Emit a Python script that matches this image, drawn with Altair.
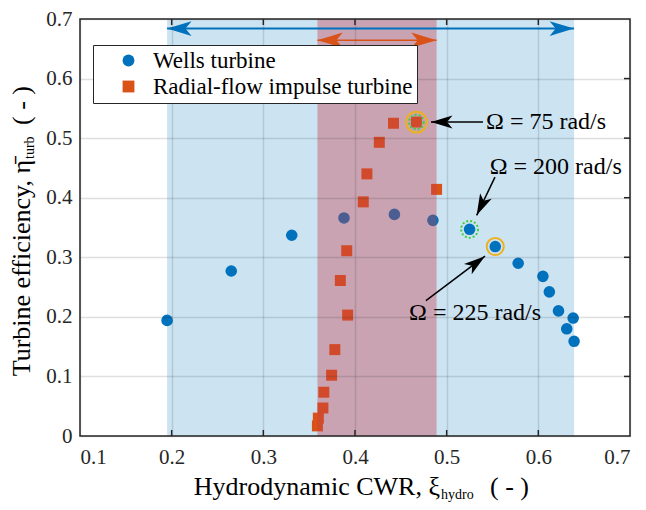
import math
import altair as alt
import pandas as pd

# ---------------- data ----------------
wells_label = "Wells turbine"
imp_label = "Radial-flow impulse turbine"

wells_x = [0.195, 0.265, 0.331, 0.388, 0.443, 0.485, 0.525, 0.553, 0.578, 0.605, 0.612, 0.622, 0.638, 0.631, 0.639]
wells_y = [0.194, 0.277, 0.337, 0.366, 0.372, 0.362, 0.347, 0.318, 0.290, 0.268, 0.242, 0.210, 0.198, 0.180, 0.159]

imp_x = [0.359, 0.360, 0.365, 0.366, 0.3745, 0.378, 0.392, 0.384, 0.391, 0.409, 0.413, 0.4265, 0.442, 0.467, 0.489]
imp_y = [0.017, 0.030, 0.047, 0.0735, 0.102, 0.145, 0.203, 0.261, 0.311, 0.393, 0.440, 0.493, 0.525, 0.527, 0.414]

x_ticks = [0.1, 0.2, 0.3, 0.4, 0.5, 0.6, 0.7]
y_ticks = [0, 0.1, 0.2, 0.3, 0.4, 0.5, 0.6, 0.7]

x_title_parts = ["Hydrodynamic CWR, ξ", "hydro", "( - )"]
y_title_parts = ["Turbine efficiency, η̄", "turb", "( - )"]

omega_labels = ["Ω = 75 rad/s", "Ω = 200 rad/s", "Ω = 225 rad/s"]
omega_text_x = [0.543, 0.547, 0.459]
omega_text_y = [0.527, 0.451, 0.207]
arrow_start_x = [0.5396, 0.5527, 0.4774]
arrow_start_y = [0.527, 0.4346, 0.2272]
arrow_tip_x = [0.4829, 0.5327, 0.5418]
arrow_tip_y = [0.527, 0.3704, 0.3019]

range_arrow_y = [0.684, 0.6645]

# ---------------- layout ----------------
W, H = 550, 417
FONT = "Liberation Serif, Times New Roman, DejaVu Serif, serif"
BLUE = "#0072BD"
ORANGE = "#D95319"
XMIN, XMAX, YMIN, YMAX = 0.1, 0.7, 0.0, 0.7
ARROW = "M0,0 L-2,-0.6 L-1.5,0 L-2,0.6 Z"

xs = alt.Scale(domain=[XMIN, XMAX], nice=False, zero=False)
ys = alt.Scale(domain=[YMIN, YMAX], nice=False, zero=False)
xaxis = alt.Axis(values=x_ticks, format="~g", title=None, grid=True, domain=False,
                 ticks=False, tickSize=0, labelPadding=10, zindex=1)
yaxis = alt.Axis(values=y_ticks, format="~g", title=None, grid=True, domain=False,
                 ticks=False, tickSize=0, labelPadding=8, zindex=1)


def X(f):
    return alt.X(f, type="quantitative", scale=xs, axis=xaxis)


def Y(f):
    return alt.Y(f, type="quantitative", scale=ys, axis=yaxis)


def ang(x1, y1, x2, y2):
    dx = (x2 - x1) * W / (XMAX - XMIN)
    dy = -(y2 - y1) * H / (YMAX - YMIN)
    return math.degrees(math.atan2(dy, dx)) % 360


one = pd.DataFrame({"a": [0]})

# spans
blue_span = alt.Chart(pd.DataFrame({"x0": [min(wells_x)], "x1": [max(wells_x)]})).mark_rect(
    color=BLUE, opacity=0.2).encode(x=X("x0"), x2="x1", y=alt.value(0), y2=alt.value(H))
red_span = alt.Chart(pd.DataFrame({"x0": [min(imp_x)], "x1": [max(imp_x)]})).mark_rect(
    color="#c43c4a", opacity=0.38).encode(x=X("x0"), x2="x1", y=alt.value(0), y2=alt.value(H))

# points
leg = alt.Legend(title=None, orient="none", legendX=13, legendY=26, fillColor="white",
                 strokeColor="#262626", padding=4, labelFont=FONT, labelFontSize=23,
                 labelColor="black", symbolOffset=20, labelOffset=13, rowPadding=2,
                 labelLimit=500, symbolSize=140, symbolStrokeWidth=0, zindex=2)
cscale = alt.Scale(domain=[wells_label, imp_label], range=[BLUE, ORANGE])
sscale = alt.Scale(domain=[wells_label, imp_label], range=["circle", "square"])

wells_df = pd.DataFrame({"x": wells_x, "y": wells_y, "series": wells_label})
imp_df = pd.DataFrame({"x": imp_x, "y": imp_y, "series": imp_label})

wells_pts = alt.Chart(wells_df).mark_point(filled=True, size=135, opacity=1, strokeWidth=0).encode(
    x=X("x"), y=Y("y"),
    color=alt.Color("series:N", scale=cscale, legend=leg),
    shape=alt.Shape("series:N", scale=sscale, legend=leg))
imp_pts = alt.Chart(imp_df).mark_point(filled=True, size=121, opacity=1, strokeWidth=0).encode(
    x=X("x"), y=Y("y"),
    color=alt.Color("series:N", scale=cscale, legend=leg),
    shape=alt.Shape("series:N", scale=sscale, legend=leg))

# highlight rings
orange_rings = alt.Chart(pd.DataFrame({
    "x": [imp_x[13], wells_x[7]], "y": [imp_y[13], wells_y[7]], "s": [434, 293]})).mark_point(
    shape="circle", filled=False, color="#EDB120", strokeWidth=2, opacity=1).encode(
    x=X("x"), y=Y("y"), size=alt.Size("s:Q", scale=None))
green_rings = alt.Chart(pd.DataFrame({
    "x": [imp_x[13], wells_x[6]], "y": [imp_y[13], wells_y[6]], "s": [209, 284]})).mark_point(
    shape="circle", filled=False, color="#3ecf3e", strokeWidth=2, strokeDash=[2, 2], opacity=1).encode(
    x=X("x"), y=Y("y"), size=alt.Size("s:Q", scale=None))

# arrows
rules = []
heads = []
for i in range(3):
    rules.append(dict(x=arrow_start_x[i], y=arrow_start_y[i], x2=arrow_tip_x[i], y2=arrow_tip_y[i],
                      c="black", w=1.5))
    heads.append(dict(x=arrow_tip_x[i], y=arrow_tip_y[i],
                      a=ang(arrow_start_x[i], arrow_start_y[i], arrow_tip_x[i], arrow_tip_y[i]),
                      s=460, c="black"))
for (lo, hi, yy, col, w, s) in [(min(wells_x), max(wells_x), range_arrow_y[0], BLUE, 2, 600),
                                (min(imp_x), max(imp_x), range_arrow_y[1], ORANGE, 1.5, 640)]:
    rules.append(dict(x=lo, y=yy, x2=hi, y2=yy, c=col, w=w))
    heads.append(dict(x=lo, y=yy, a=180, s=s, c=col))
    heads.append(dict(x=hi, y=yy, a=0, s=s, c=col))

arrow_lines = alt.Chart(pd.DataFrame(rules)).mark_rule().encode(
    x=X("x"), y=Y("y"), x2="x2", y2="y2",
    stroke=alt.Stroke("c:N", scale=None), strokeWidth=alt.StrokeWidth("w:Q", scale=None))
arrow_heads = alt.Chart(pd.DataFrame(heads)).mark_point(
    shape=ARROW, filled=True, opacity=1, strokeWidth=0).encode(
    x=X("x"), y=Y("y"), fill=alt.Fill("c:N", scale=None),
    size=alt.Size("s:Q", scale=None), angle=alt.Angle("a:Q", scale=None))

ann_text = alt.Chart(pd.DataFrame({"x": omega_text_x, "y": omega_text_y, "t": omega_labels})).mark_text(
    align="left", baseline="middle", font=FONT, fontSize=24, color="black").encode(
    x=X("x"), y=Y("y"), text="t:N")

# inward ticks
xt = pd.DataFrame({"v": x_ticks[1:-1]})
yt = pd.DataFrame({"v": y_ticks[1:-1]})
tick_bottom = alt.Chart(xt).mark_rule(color="#262626", strokeWidth=1.5).encode(
    x=X("v"), y=alt.value(H), y2=alt.value(H - 6))
tick_top = alt.Chart(xt).mark_rule(color="#262626", strokeWidth=1.5).encode(
    x=X("v"), y=alt.value(0), y2=alt.value(6))
tick_right = alt.Chart(yt).mark_rule(color="#262626", strokeWidth=1.5).encode(
    y=Y("v"), x=alt.value(W), x2=alt.value(W - 6))

frame = alt.Chart(one).mark_rect(filled=False, color="#262626", strokeWidth=1.5).encode(
    x=alt.value(0), x2=alt.value(W), y=alt.value(0), y2=alt.value(H))

# axis titles (with subscripts)
def txt(s, x, y, size, align, angle=0):
    kw = dict(align=align, baseline="alphabetic", font=FONT, fontSize=size, color="black")
    if angle:
        kw["angle"] = angle
    return alt.Chart(one).mark_text(**kw).encode(x=alt.value(x), y=alt.value(y), text=alt.value(s))

xt1 = txt(x_title_parts[0], 360, 476, 26, "right")
xt2 = txt(x_title_parts[1], 361, 480, 14, "left")
xt3 = txt(x_title_parts[2], 410, 476, 26, "left")
yt1 = txt(y_title_parts[0], -50, 141, 26, "right", 270)
yt2 = txt(y_title_parts[1], -46, 140, 14, "left", 270)
yt3 = txt(y_title_parts[2], -50, 106, 26, "left", 270)

chart = alt.layer(
    blue_span, wells_pts, imp_pts, red_span, orange_rings, green_rings,
    arrow_lines, arrow_heads, ann_text, tick_bottom, tick_top, tick_right, frame,
    xt1, xt2, xt3, yt1, yt2, yt3
).properties(
    width=W, height=H,
    padding={"left": 72, "top": 11, "right": 8, "bottom": 72},
    autosize=alt.AutoSizeParams(type="none"),
    background="white",
).configure_view(strokeWidth=0).configure_axis(
    labelFont=FONT, labelFontSize=21, labelColor="#262626",
    gridColor="#262626", gridOpacity=0.15, gridWidth=1.5)

chart.save("out.html", embed_options={"renderer": "svg", "actions": False})
